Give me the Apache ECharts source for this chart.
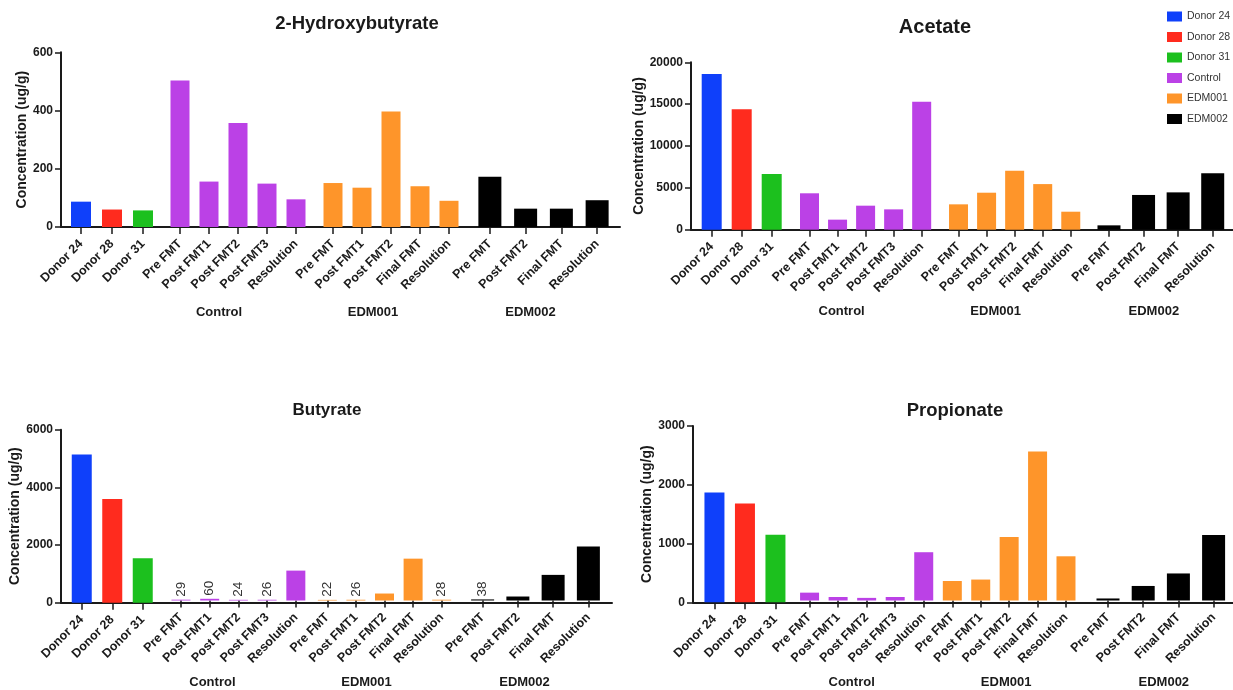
<!DOCTYPE html>
<html>
<head>
<meta charset="utf-8">
<script src="https://cdn.jsdelivr.net/npm/echarts@6/dist/echarts.min.js"></script>
<style>
html,body{margin:0;padding:0;background:#fff;}
#chart{width:1233px;height:690px;}
</style>
</head>
<body>
<div id="chart"></div>
<script>
// ---------- categories ----------
const donorCats = ['Donor 24', 'Donor 28', 'Donor 31'];
const controlCats = ['Pre FMT', 'Post FMT1', 'Post FMT2', 'Post FMT3', 'Resolution'];
const edm001Cats = ['Pre FMT', 'Post FMT1', 'Post FMT2', 'Final FMT', 'Resolution'];
const edm002Cats = ['Pre FMT', 'Post FMT2', 'Final FMT', 'Resolution'];
const groupNames = ['Control', 'EDM001', 'EDM002'];
const legendNames = ['Donor 24', 'Donor 28', 'Donor 31', 'Control', 'EDM001', 'EDM002'];

// ---------- values (ug/g) ----------
// 2-Hydroxybutyrate
const hbDonor = [87, 60, 57];
const hbControl = [503, 156, 357, 149, 95];
const hbEdm001 = [151, 135, 397, 140, 90];
const hbEdm002 = [173, 63, 63, 92];
// Acetate
const acDonor = [18600, 14400, 6650];
const acControl = [4350, 1200, 2870, 2430, 15300];
const acEdm001 = [3030, 4420, 7050, 5450, 2150];
const acEdm002 = [520, 4150, 4460, 6730];
// Butyrate
const buDonor = [5140, 3600, 1540];
const buControl = [29, 60, 24, 26, 1050];
const buEdm001 = [22, 26, 245, 1470, 28];
const buEdm002 = [38, 140, 900, 1900];
// Propionate
const prDonor = [1870, 1680, 1150];
const prControl = [135, 60, 45, 60, 830];
const prEdm001 = [335, 360, 1090, 2560, 760];
const prEdm002 = [35, 250, 465, 1125];

// ---------- y-axis scales ----------
const hbAxis = {max: 600, interval: 200};
const acAxis = {max: 20000, interval: 5000};
const buAxis = {max: 6000, interval: 2000};
const prAxis = {max: 3000, interval: 1000};

// ---------- styling ----------
const FONT = 'Liberation Sans, Arial, Helvetica, sans-serif';
const INK = '#1a1a1a';
const COLORS = {
  'Donor 24': '#0f40fa', 'Donor 28': '#ff2b1e', 'Donor 31': '#1cc01e',
  'Control': '#bb41e6', 'EDM001': '#fe952a', 'EDM002': '#000000'
};

const panels = [
  {title: '2-Hydroxybutyrate', titleX: 357, titleTop: 14.5, titleSize: 18.5,
   axis: hbAxis, vals: [hbDonor, hbControl, hbEdm001, hbEdm002], labels: false,
   yx: 61, top: 52.3, bottom: 227, right: 620, yNameGap: 32,
   groups: [[65.5, 158.5], [165.5, 310.5], [318.5, 463.5], [472, 615]],
   barW: [20, 19, 19, 23], shifts: [-19, -18, -13], nameGap: 79},
  {title: 'Acetate', titleX: 935, titleTop: 17, titleSize: 20,
   axis: acAxis, vals: [acDonor, acControl, acEdm001, acEdm002], labels: false,
   yx: 691, top: 62.3, bottom: 229.7, right: 1233, yNameGap: 43,
   groups: [[696.7, 786.7], [795.5, 935.7], [944.5, 1084.8], [1091.7, 1230]],
   barW: [20, 19, 19, 23], shifts: [-24, -19, -7], nameGap: 75},
  {title: 'Butyrate', titleX: 327, titleTop: 401.5, titleSize: 17,
   axis: buAxis, vals: [buDonor, buControl, buEdm001, buEdm002], labels: true,
   yx: 61, top: 429.7, bottom: 602.7, right: 612, yNameGap: 38,
   groups: [[66.5, 158], [166.6, 310.2], [313, 456], [465, 606]],
   barW: [20, 19, 19, 23], shifts: [-26, -18, -11], nameGap: 75.5},
  {title: 'Propionate', titleX: 955, titleTop: 401.7, titleSize: 18.5,
   axis: prAxis, vals: [prDonor, prControl, prEdm001, prEdm002], labels: false,
   yx: 693, top: 426, bottom: 602.3, right: 1233, yNameGap: 36,
   groups: [[699.2, 790.7], [795.3, 938], [938.1, 1080.2], [1090.4, 1231.2]],
   barW: [20, 19, 19, 23], shifts: [-15, -3, 3], nameGap: 75.5}
];
const groupCats = [donorCats, controlCats, edm001Cats, edm002Cats];

const grid = [], xAxis = [], yAxis = [], series = [], title = [];

panels.forEach(function (p) {
  title.push({
    text: p.title, left: p.titleX, top: p.titleTop, textAlign: 'center', padding: 0,
    textStyle: {fontFamily: FONT, fontSize: p.titleSize, fontWeight: 'bold', color: INK}
  });
  const h = p.bottom - p.top;
  // frame grid: y axis + continuous baseline
  const fi = grid.length;
  grid.push({left: p.yx, top: p.top, width: p.right - p.yx, height: h});
  xAxis.push({
    type: 'value', gridIndex: fi, min: 0, max: 1,
    axisLine: {show: true, lineStyle: {color: INK, width: 2}},
    axisTick: {show: false}, axisLabel: {show: false}, splitLine: {show: false}
  });
  yAxis.push({
    type: 'value', gridIndex: fi, min: 0, max: p.axis.max, interval: p.axis.interval,
    axisLine: {show: true, lineStyle: {color: INK, width: 2}},
    axisTick: {show: true, length: 6, lineStyle: {color: INK, width: 1.5}},
    axisLabel: {fontFamily: FONT, fontSize: 12, fontWeight: 'bold', color: INK, margin: 8,
      formatter: function (v) { return String(v); }},
    splitLine: {show: false},
    name: 'Concentration (ug/g)', nameLocation: 'middle', nameGap: p.yNameGap,
    nameTextStyle: {fontFamily: FONT, fontSize: 14, fontWeight: 'bold', color: INK}
  });
  // group grids
  p.groups.forEach(function (g, gi) {
    const idx = grid.length;
    grid.push({left: g[0], top: p.top, width: g[1] - g[0], height: h});
    const xa = {
      type: 'category', gridIndex: idx, data: groupCats[gi],
      axisLine: {show: false},
      axisTick: {show: true, alignWithLabel: true, length: 7, lineStyle: {color: INK, width: 1.5}},
      axisLabel: {interval: 0, rotate: 45, fontFamily: FONT, fontSize: 12.5, fontWeight: 'bold', color: INK, margin: 15},
      splitLine: {show: false}
    };
    if (gi > 0) {
      const s = p.shifts[gi - 1];
      xa.name = groupNames[gi - 1];
      xa.nameLocation = 'middle';
      xa.nameGap = p.nameGap;
      xa.nameTextStyle = {
        fontFamily: FONT, fontSize: 13, fontWeight: 'bold', color: INK,
        padding: s < 0 ? [0, -2 * s, 0, 0] : [0, 0, 0, 2 * s]
      };
    }
    xAxis.push(xa);
    yAxis.push({type: 'value', gridIndex: idx, min: 0, max: p.axis.max, interval: p.axis.interval, show: false});

    const vals = p.vals[gi];
    const lbl = p.labels ? {
      show: true, position: 'top', rotate: 90, align: 'left', verticalAlign: 'middle', distance: 3,
      fontFamily: FONT, fontSize: 13.5, color: '#333',
      formatter: function (d) { return (typeof d.value === 'number' && d.value < 100) ? String(d.value) : ''; }
    } : {show: false};

    if (gi === 0) {
      donorCats.forEach(function (name, di) {
        series.push({
          type: 'bar', name: name, xAxisIndex: idx, yAxisIndex: idx, stack: 'donor' + idx,
          barWidth: p.barW[gi], data: vals.map(function (v, j) { return j === di ? v : '-'; }),
          itemStyle: {color: COLORS[name]}, label: {show: false}
        });
      });
    } else {
      const name = groupNames[gi - 1];
      series.push({
        type: 'bar', name: name, xAxisIndex: idx, yAxisIndex: idx,
        barWidth: p.barW[gi], data: vals.slice(),
        itemStyle: {color: COLORS[name]}, label: lbl
      });
    }
  });
});

const chart = echarts.init(document.getElementById('chart'), null, {renderer: 'canvas'});
chart.setOption({
  animation: false,
  backgroundColor: '#ffffff',
  title: title,
  legend: {
    data: legendNames, orient: 'vertical', left: 1167, top: 11,
    itemWidth: 15, itemHeight: 10, itemGap: 9.5, icon: 'rect', padding: 0,
    textStyle: {fontFamily: FONT, fontSize: 10.5, color: '#333'}
  },
  grid: grid, xAxis: xAxis, yAxis: yAxis, series: series
});
</script>
</body>
</html>
